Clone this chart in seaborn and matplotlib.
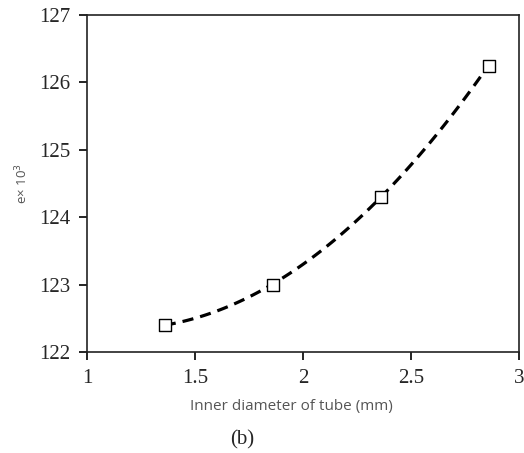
import numpy as np
import pandas as pd
import seaborn as sns
import matplotlib
matplotlib.use("Agg")
import matplotlib.pyplot as plt

diameter = [1.36, 1.86, 2.36, 2.86]
e_vals = [122.4, 123.0, 124.3, 126.25]
x_ticks = [1, 1.5, 2, 2.5, 3]
x_tick_labels = ["1", "1.5", "2", "2.5", "3"]
y_ticks = [122, 123, 124, 125, 126, 127]

df = pd.DataFrame({"d": diameter, "e": e_vals})

sns.set_style("ticks")
fig = plt.figure(figsize=(5.24, 4.53), dpi=100)
ax = fig.add_axes([0.166, 0.223, 0.824, 0.744])

sns.regplot(data=df, x="d", y="e", order=2, ci=None, scatter=False, truncate=True,
            ax=ax, line_kws=dict(color="black", lw=2.3, ls=(0, (3.5, 2.2))))
sns.scatterplot(data=df, x="d", y="e", marker="s", s=80, facecolor="white",
                edgecolor="black", linewidth=1.0, ax=ax, zorder=5)

ax.set_xlim(1, 3)
ax.set_ylim(122, 127)
ax.set_xticks(x_ticks)
ax.set_xticklabels(x_tick_labels)
ax.set_yticks(y_ticks)
for lab in ax.get_xticklabels() + ax.get_yticklabels():
    lab.set_family("Liberation Serif")
    lab.set_fontsize(15)
ax.tick_params(direction="out", length=6, width=1.2, color="black", pad=6)
for sp in ax.spines.values():
    sp.set_linewidth(1.2)
    sp.set_color("#222222")

ax.set_xlabel("Inner diameter of tube (mm)", family="Open Sans", fontsize=11,
              color="#555555", labelpad=6)
ax.xaxis.set_label_coords(0.474, -0.14)
ax.set_ylabel("e× 10$^3$", family="Open Sans", fontsize=9.5, color="#555555", labelpad=6)

fig.text(0.462, 0.018, "(b)", family="Liberation Serif", fontsize=15, ha="center")

fig.savefig("out.png", dpi=100)
